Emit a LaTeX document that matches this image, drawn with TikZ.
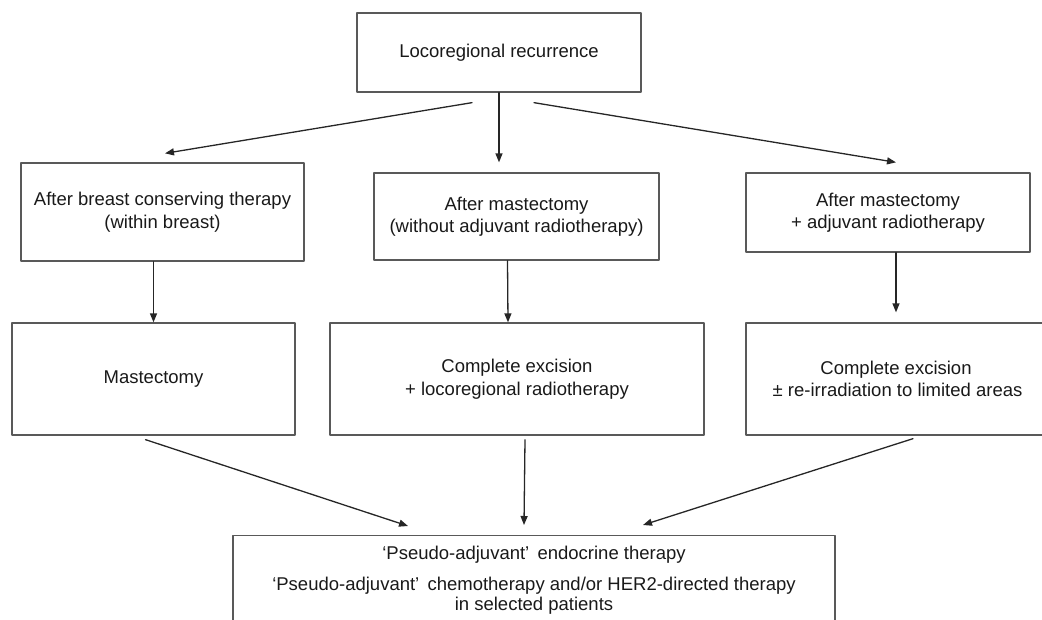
\documentclass[tikz,border=0pt]{standalone}
\usepackage{fontspec}
\setmainfont{Liberation Sans}
\usetikzlibrary{arrows.meta,positioning}

\begin{document}
\begin{tikzpicture}[line cap=round, line join=round, x=1pt, y=-1pt,
        box/.style={draw=black!65, line width=1.3pt, inner sep=0pt, align=center,
                    text=black!90, font=\fontsize{18.5}{22.5}\selectfont},
        arr/.style={draw=black!85, line width=1.3pt, -{Triangle[length=9pt,width=7pt]}}]

                \useasboundingbox (0,0) rectangle (1042,619);

                \node[box, minimum width=284pt, minimum height=79pt] (recur) at (499,52.5) {Locoregional recurrence};

                \node[box, minimum width=283pt, minimum height=98pt] (bct) at (162.5,212) {After breast conserving therapy\\(within breast)};
                \node[box, minimum width=285pt, minimum height=87pt] (mast) at (516.5,216.5) {After mastectomy\\(without adjuvant radiotherapy)};
                \node[box, minimum width=284pt, minimum height=79pt] (mastrt) at (888,212.5) {After mastectomy\\+ adjuvant radiotherapy};

                \node[box, minimum width=283pt, minimum height=112pt] (mastectomy) at (153.5,379) {Mastectomy};
                \node[box, minimum width=374pt, minimum height=112pt] (excision) at (517,379) {Complete excision\\+ locoregional radiotherapy};
                \node[box, minimum width=300pt, minimum height=112pt] (reirr) at (896,379) {Complete excision\\\,± re-irradiation to limited areas};

                \node[box, anchor=north, minimum width=602pt, minimum height=120pt] (final) at (534,535) {};
                \node[anchor=north, inner sep=0pt, align=center, text=black!90,
                      font=\fontsize{18.5}{20}\selectfont] (finaltxt) at ([yshift=-11pt]final.north)
                      {`Pseudo-adjuvant'\, endocrine therapy\\[11pt]
                       `Pseudo-adjuvant'\, chemotherapy and/or HER2-directed therapy\\
                       in selected patients};

                \draw[arr] ([xshift=-27pt,yshift=-10pt]recur.south) -- ([xshift=2.5pt,yshift=9pt]bct.north);
                \draw[arr] (recur.south) -- ([yshift=10pt]recur.south |- mast.north);
                \draw[arr] ([xshift=35pt,yshift=-10pt]recur.south) -- ([xshift=8pt,yshift=10pt]mastrt.north);

                \draw[arr] (bct.south -| mastectomy.north) -- (mastectomy.north);
                \draw[arr] ([xshift=-9pt]mast.south) -- ([xshift=-9pt]excision.north);
                \draw[arr] (mastrt.south -| reirr.north) -- ([yshift=10pt]reirr.north);

                \draw[arr] ([xshift=-8pt,yshift=-4pt]mastectomy.south) -- ([xshift=-126pt,yshift=9pt]final.north);
                \draw[arr] ([xshift=8pt,yshift=-4pt]excision.south) -- ([xshift=-10pt,yshift=10pt]final.north);
                \draw[arr] ([xshift=17pt,yshift=-3pt]reirr.south) -- ([xshift=109pt,yshift=10pt]final.north);

\end{tikzpicture}
\end{document}
